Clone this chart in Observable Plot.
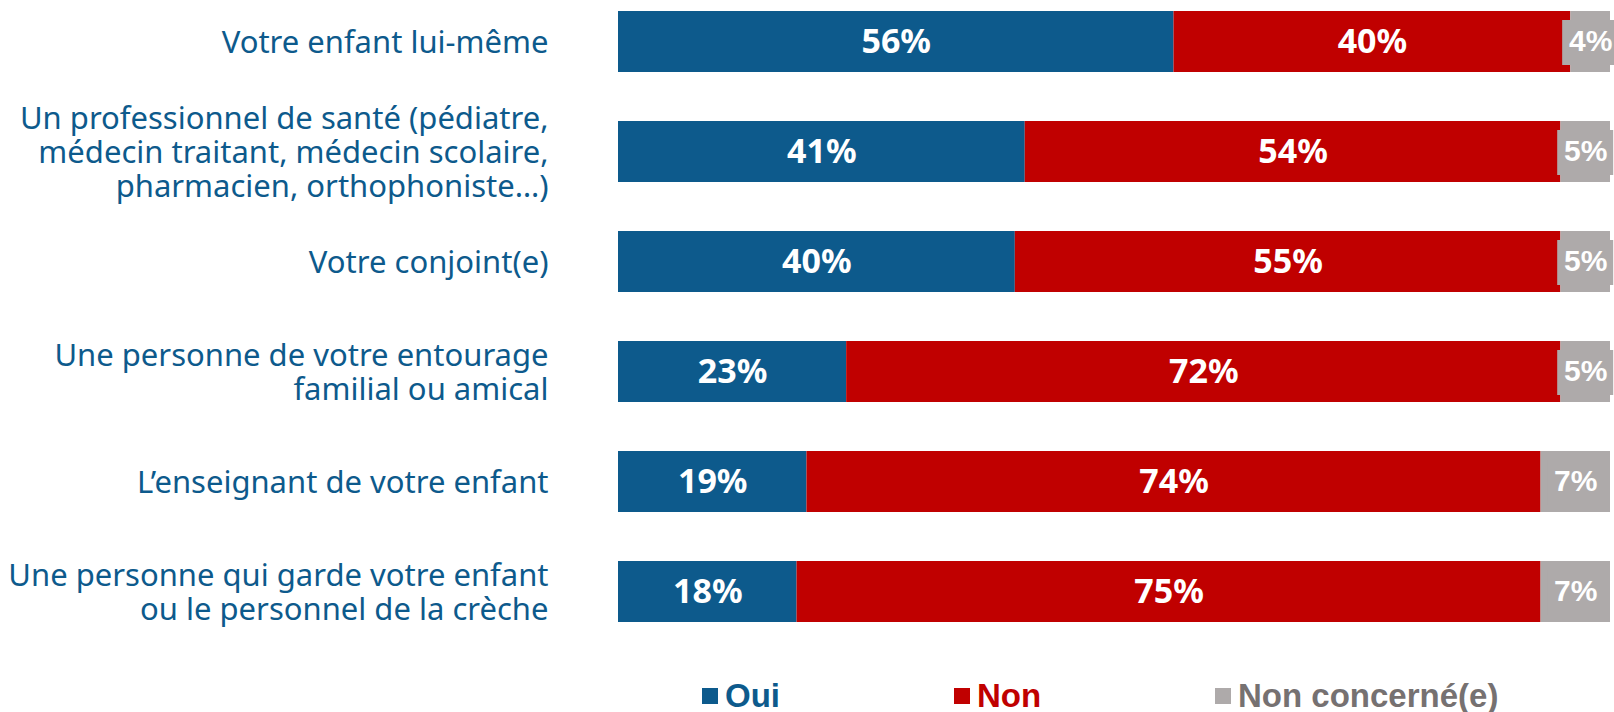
<!DOCTYPE html>
<html><head><meta charset="utf-8">
<script src="https://cdn.jsdelivr.net/npm/d3@7"></script>
<script src="https://cdn.jsdelivr.net/npm/@observablehq/plot@0.6"></script>
<style>
body{margin:0;background:#fff;overflow:hidden;}
#legend{position:relative;height:62px;font-family:"Liberation Sans",Arial,sans-serif;font-weight:bold;font-size:33px;}
.item{position:absolute;top:31px;display:flex;align-items:center;line-height:30px;height:30px;}
.sw{width:16px;height:16px;margin-right:7px;}
</style></head><body>
<div id="chart"></div>
<div id="legend"></div>
<script>
const categories = [
  "Votre enfant lui-même",
  "Un professionnel de santé (pédiatre,\nmédecin traitant, médecin scolaire,\npharmacien, orthophoniste…)",
  "Votre conjoint(e)",
  "Une personne de votre entourage\nfamilial ou amical",
  "L’enseignant de votre enfant",
  "Une personne qui garde votre enfant\nou le personnel de la crèche"
];
const responses = ["Oui", "Non", "Non concerné(e)"];
const oui = [56, 41, 40, 23, 19, 18];
const non = [40, 54, 55, 72, 74, 75];
const nonConcerne = [4, 5, 5, 5, 7, 7];
const colors = ["#0d5a8c", "#c00000", "#aeaaaa"];
const legendText = ["#0d5a8c", "#c00000", "#767171"];

const series = [oui, non, nonConcerne];
const table = [];
categories.forEach((c, i) => responses.forEach((r, j) => table.push({cat: c, resp: r, value: series[j][i]})));
const ncRows = categories.map((c, i) => ({cat: c, value: nonConcerne[i], mid: oui[i] + non[i] + nonConcerne[i] / 2}));

const chart = Plot.plot({
  width: 1614, height: 650,
  marginLeft: 618, marginRight: 4, marginTop: 0, marginBottom: 18,
  x: {domain: [0, 100], axis: null},
  y: {domain: categories, paddingInner: 0.448, paddingOuter: 0.075, axis: null},
  color: {domain: responses, range: colors},
  marks: [
    Plot.barX(table, {x: "value", y: "cat", fill: "resp"}),
    Plot.rect(ncRows, {x1: "mid", x2: "mid", y: "cat", fill: "#aeaaaa", insetLeft: -28, insetRight: -28, insetTop: 9, insetBottom: 7}),
    Plot.text(table, Plot.stackX({x: "value", y: "cat", text: d => d.resp !== "Non concerné(e)" ? d.value + "%" : null,
      fill: "white", fontSize: 34, fontWeight: "bold", fontFamily: "Noto Sans"})),
    Plot.text(ncRows, {x: "mid", y: "cat", dy: -1, text: d => d.value + "%", fill: "white", fontSize: 30, fontWeight: "bold", fontFamily: "Liberation Sans"}),
    Plot.axisY({tickSize: 0, tickPadding: 70, fontSize: 31, lineHeight: 1.1, fill: "#0d5a8c", fontFamily: "Noto Sans", label: null})
  ]
});
chart.style.overflow = "visible";
document.getElementById("chart").append(chart);

const lx = [702, 954, 1215];
const leg = document.getElementById("legend");
responses.forEach((r, i) => {
  const it = document.createElement("div");
  it.className = "item"; it.style.left = lx[i] + "px"; it.style.color = legendText[i];
  const sw = document.createElement("div"); sw.className = "sw"; sw.style.background = colors[i];
  const t = document.createElement("span"); t.textContent = r;
  it.append(sw, t); leg.append(it);
});
</script>
</body></html>
